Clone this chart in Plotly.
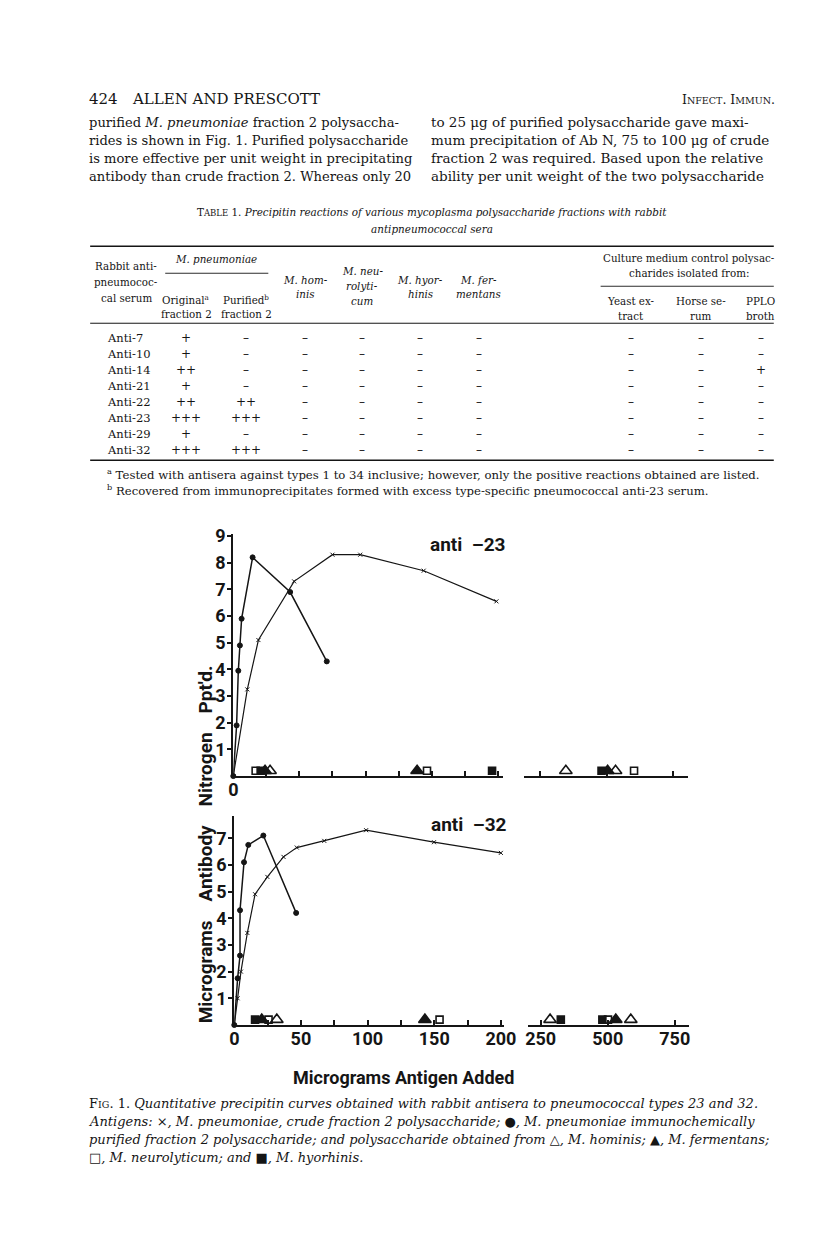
import plotly.graph_objects as go

# page is 816x1249; the html body adds an 8px margin round the figure,
# the figure is kept a little short so that the page never scrolls
PAGE_PAD = 8
W, H = 816 - 2 * PAGE_PAD, 1249 - 2 * PAGE_PAD - 12
# measured drift between where things are asked for and where they land
SX, OX = 0.9766, 5.1
SY, OY = 0.993, 7.7
SERIF = "DejaVu Serif, serif"
SANS = "Roboto, Arial, sans-serif"
INK = "#151515"
NB = "\u00a0"

# ---- table data ----
table_rows = ["Anti-7", "Anti-10", "Anti-14", "Anti-21", "Anti-22", "Anti-23", "Anti-29", "Anti-32"]
col_original = ["+", "+", "++", "+", "++", "+++", "+", "+++"]
col_purified = ["\u2013", "\u2013", "\u2013", "\u2013", "++", "+++", "\u2013", "+++"]
col_hominis = ["\u2013"] * 8
col_neuro = ["\u2013"] * 8
col_hyor = ["\u2013"] * 8
col_ferm = ["\u2013"] * 8
col_yeast = ["\u2013"] * 8
col_horse = ["\u2013"] * 8
col_pplo = ["\u2013", "\u2013", "+", "\u2013", "\u2013", "\u2013", "\u2013", "\u2013"]

# ---- anti-23 curves ----
a23_crude_x = [0, 10.6, 19, 46, 75, 96, 144, 199]
a23_crude_y = [0, 3.25, 5.1, 7.3, 8.3, 8.3, 7.7, 6.55]
a23_pure_x = [0, 2.5, 3.8, 5.0, 6.3, 14.6, 43, 70.7]
a23_pure_y = [0, 1.9, 3.95, 4.9, 5.9, 8.2, 6.9, 4.3]

# ---- anti-32 curves ----
a32_crude_x = [0, 2.5, 5, 9.8, 15.6, 24.8, 36.9, 46.9, 67.5, 98.9, 149.8, 200]
a32_crude_y = [0, 1.0, 2.0, 3.45, 4.9, 5.55, 6.3, 6.65, 6.9, 7.3, 6.85, 6.45]
a32_pure_x = [0, 2.5, 4.3, 4.3, 7.3, 10.5, 21.8, 46.4]
a32_pure_y = [0, 1.75, 2.6, 4.3, 6.1, 6.75, 7.1, 4.2]

# ---- non-reacting antigens plotted on the baseline ----
BASE = 0.2
a23_hominis_x = [27.8, 346, 534]
a23_ferm_x = [24, 139, 504]
a23_neuro_x = [16.9, 146.5, 604]
a23_hyor_x = [20.7, 195.7, 481]
a32_hominis_x = [31.9, 285, 586]
a32_ferm_x = [20.6, 143, 530]
a32_neuro_x = [25.7, 154, 501]
a32_hyor_x = [15.6, 325, 480]


def px(x):
    return ((x - OX) / SX - PAGE_PAD) / W


def py(y):
    return 1 - ((y - OY) / SY - PAGE_PAD) / H


fig = go.Figure()


def curve(xs, ys, xa, ya, symbol, size, width):
    fig.add_trace(
        go.Scatter(
            x=xs, y=ys, xaxis=xa, yaxis=ya, mode="lines+markers",
            line={"color": INK, "width": width},
            marker={"symbol": symbol, "size": size, "color": INK,
                    "line": {"color": INK, "width": 1}},
            cliponaxis=False, showlegend=False,
        )
    )


def baseline(xs, xa2, xa, ya, symbol, size):
    for axis, vals in ((xa, [v for v in xs if v <= 200]), (xa2, [v for v in xs if v > 200])):
        fig.add_trace(
            go.Scatter(
                x=vals, y=[BASE] * len(vals), xaxis=axis, yaxis=ya, mode="markers",
                marker={"symbol": symbol, "size": size, "color": INK,
                        "line": {"color": INK, "width": 1.6}},
                cliponaxis=False, showlegend=False,
            )
        )


curve(a23_crude_x, a23_crude_y, "x", "y", "x-thin", 4, 1.2)
curve(a23_pure_x, a23_pure_y, "x", "y", "circle", 5, 1.5)
curve(a32_crude_x, a32_crude_y, "x3", "y2", "x-thin", 4, 1.2)
curve(a32_pure_x, a32_pure_y, "x3", "y2", "circle", 5, 1.5)

for xs, sym, sz in ((a23_hominis_x, "triangle-up-open", 11), (a23_ferm_x, "triangle-up", 11),
                    (a23_neuro_x, "square-open", 7), (a23_hyor_x, "square", 7)):
    baseline(xs, "x2", "x", "y", sym, sz)
for xs, sym, sz in ((a32_hominis_x, "triangle-up-open", 11), (a32_ferm_x, "triangle-up", 11),
                    (a32_neuro_x, "square-open", 7), (a32_hyor_x, "square", 7)):
    baseline(xs, "x4", "x3", "y2", sym, sz)

tick_font = {"family": SANS, "size": 18, "color": INK, "weight": "bold"}
minor25 = {"ticks": "inside", "ticklen": 5, "tickwidth": 1.5, "tickcolor": INK,
           "tick0": 0, "dtick": 25, "showgrid": False}
xcommon = dict(showline=True, linecolor=INK, linewidth=2, ticks="inside", ticklen=5,
               tickwidth=1.5, tickcolor=INK, showgrid=False, zeroline=False,
               tickfont=tick_font, fixedrange=True, ticklabelstandoff=-4)
ycommon = dict(showline=True, linecolor=INK, linewidth=2, ticks="outside", ticklen=4,
               tickwidth=1.5, tickcolor=INK, showgrid=False, zeroline=False,
               tickfont=tick_font, fixedrange=True, ticklabelstandoff=-2)

fig.update_layout(
    width=W, height=H,
    margin={"l": 0, "r": 0, "t": 0, "b": 0},
    paper_bgcolor="white", plot_bgcolor="white",
    xaxis=dict(xcommon, domain=[px(233), px(502.5)], range=[0, 204], anchor="y",
               tickvals=[0], ticktext=["0"], minor=minor25),
    xaxis2=dict(xcommon, domain=[px(523), px(687)], range=[186, 807], anchor="y",
                tickvals=[250, 500, 750], showticklabels=False),
    yaxis=dict(ycommon, domain=[py(775), py(533)], range=[0, 9.07], anchor="x",
               tickvals=list(range(1, 10))),
    xaxis3=dict(xcommon, domain=[px(234), px(503)], range=[0, 202], anchor="y2",
                tickvals=[0, 50, 100, 150, 200], minor=minor25),
    xaxis4=dict(xcommon, domain=[px(527), px(688)], range=[201, 802], anchor="y2",
                tickvals=[250, 500, 750]),
    yaxis2=dict(ycommon, domain=[py(1024), py(815)], range=[0, 7.83], anchor="x3",
                tickvals=list(range(1, 8))),
)


def text(x, y, s, size=13.5, anchor="left", family=SERIF, angle=0, weight="normal"):
    fig.add_annotation(
        x=px(x), y=py(y), xref="paper", yref="paper", text=s, showarrow=False,
        xanchor=anchor, yanchor="middle", textangle=angle, borderpad=0,
        font={"family": family, "size": size, "color": INK, "weight": weight},
    )


def rule(x0, x1, y, width=1.0):
    fig.add_shape(type="line", xref="paper", yref="paper",
                  x0=px(x0), x1=px(x1), y0=py(y), y1=py(y),
                  line={"color": INK, "width": width})


def sc(s, small):
    # small caps: first letter full size, rest reduced
    return s[0] + f"<span style='font-size:{small}px'>{s[1:]}</span>"


# ---- running head ----
text(88, 98, "424", 15)
text(131, 98, "ALLEN AND PRESCOTT", 15)
text(775, 98, sc("INFECT", 9.5) + ". " + sc("IMMUN", 9.5) + ".", 12.5, anchor="right")

# ---- body text ----
left_lines = [
    "purified <i>M. pneumoniae</i> fraction 2 polysaccha-",
    "rides is shown in Fig. 1. Purified polysaccharide",
    "is more effective per unit weight in precipitating",
    "antibody than crude fraction 2. Whereas only 20",
]
right_lines = [
    "to 25 \u03bcg of purified polysaccharide gave maxi-",
    "mum precipitation of Ab N, 75 to 100 \u03bcg of crude",
    "fraction 2 was required. Based upon the relative",
    "ability per unit weight of the two polysaccharide",
]
for i, (l, r) in enumerate(zip(left_lines, right_lines)):
    text(88, 121 + 18 * i, l, 13.1)
    text(430, 121 + 18 * i, r, 13.5)

# ---- table ----
text(432, 211, sc("TABLE", 8.5) + " 1. <i>Precipitin reactions of various mycoplasma polysaccharide fractions with rabbit</i>",
     10.4, anchor="center")
text(432, 228, "<i>antipneumococcal sera</i>", 10.4, anchor="center")
rule(90, 773, 245, 1.6)
rule(165, 268, 272, 0.9)
rule(600, 773, 285, 0.9)
rule(90, 773, 322, 1.0)
rule(90, 773, 459, 1.6)

hs = 10.3
text(126, 265, "Rabbit anti-", hs, "center")
text(126, 281, "pneumococ-", hs, "center")
text(126, 297, "cal serum", hs, "center")
text(216, 258, "<i>M. pneumoniae</i>", hs, "center")
text(186, 298, "Original<sup>a</sup>", hs, "center")
text(186, 313, "fraction 2", hs, "center")
text(246, 298, "Purified<sup>b</sup>", hs, "center")
text(246, 313, "fraction 2", hs, "center")
text(305, 279, "<i>M. hom-</i>", hs, "center")
text(305, 293, "<i>inis</i>", hs, "center")
text(362, 270, "<i>M. neu-</i>", hs, "center")
text(362, 285, "<i>rolyti-</i>", hs, "center")
text(362, 300, "<i>cum</i>", hs, "center")
text(420, 279, "<i>M. hyor-</i>", hs, "center")
text(420, 293, "<i>hinis</i>", hs, "center")
text(478, 279, "<i>M. fer-</i>", hs, "center")
text(478, 293, "<i>mentans</i>", hs, "center")
text(688, 257, "Culture medium control polysac-", hs, "center")
text(688, 272, "charides isolated from:", hs, "center")
text(630, 300, "Yeast ex-", hs, "center")
text(630, 315, "tract", hs, "center")
text(700, 300, "Horse se-", hs, "center")
text(700, 315, "rum", hs, "center")
text(760, 300, "PPLO", hs, "center")
text(760, 315, "broth", hs, "center")

col_x = [186, 246, 305, 362, 420, 478, 630, 700, 760]
cols = [col_original, col_purified, col_hominis, col_neuro, col_hyor, col_ferm,
        col_yeast, col_horse, col_pplo]
for i, name in enumerate(table_rows):
    yy = 337 + 16 * i
    text(106, yy, name, 11.5)
    for cx, col in zip(col_x, cols):
        text(cx, yy, col[i], 12, "center")

text(106, 473, "<sup>a</sup> Tested with antisera against types 1 to 34 inclusive; however, only the positive reactions obtained are listed.", 11.7)
text(106, 489, "<sup>b</sup> Recovered from immunoprecipitates formed with excess type-specific pneumococcal anti-23 serum.", 11.7)

# ---- figure labels ----
text(467, 543, "anti  \u201323", 19, "center", SANS, weight="bold")
text(468, 823, "anti  \u201332", 19, "center", SANS, weight="bold")
ytitle = (" " + NB * 3).join(["Micrograms", "Antibody", "Nitrogen", "Ppt'd."])
text(205, 843, ytitle, 19, "center", SANS, angle=-90, weight="bold")
text(403, 1077, "Micrograms Antigen Added", 18, "center", SANS, weight="bold")

# ---- caption ----
caption = [
    sc("FIG", 9.5) + ". 1. <i>Quantitative precipitin curves obtained with rabbit antisera to pneumococcal types 23 and 32.</i>",
    "<i>Antigens: \u00d7, M. pneumoniae, crude fraction 2 polysaccharide; \u25cf, M. pneumoniae immunochemically</i>",
    "<i>purified fraction 2 polysaccharide; and polysaccharide obtained from \u25b3, M. hominis; \u25b2, M. fermentans;</i>",
    "<i>\u25a1, M. neurolyticum; and \u25a0, M. hyorhinis.</i>",
]
for i, line in enumerate(caption):
    text(88, 1103 + 18 * i, line, 13.0)

fig.write_html("out.html")
